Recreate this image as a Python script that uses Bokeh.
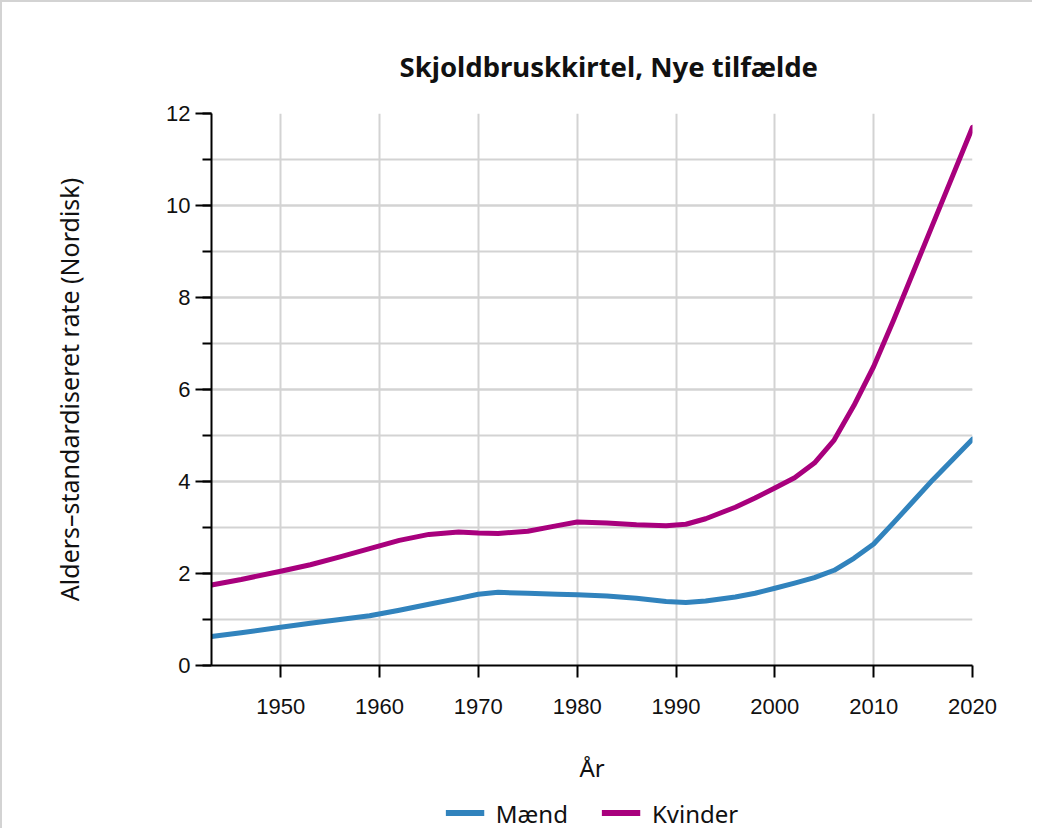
from bokeh.plotting import figure
from bokeh.models import ColumnDataSource, SingleIntervalTicker, FixedTicker, Range1d, Legend, LegendItem, Title
from bokeh.layouts import column
from bokeh.embed import file_html
from bokeh.resources import INLINE

years = [1943, 1946, 1950, 1953, 1956, 1959, 1962, 1965, 1968, 1970, 1972, 1975, 1978, 1980, 1983, 1986,
         1989, 1991, 1993, 1996, 1998, 2000, 2002, 2004, 2006, 2008, 2010, 2012, 2014, 2016, 2018, 2020]
maend = [0.63, 0.71, 0.83, 0.92, 1.00, 1.08, 1.20, 1.33, 1.46, 1.55, 1.59, 1.57, 1.55, 1.54, 1.51, 1.46,
         1.39, 1.37, 1.40, 1.49, 1.57, 1.68, 1.79, 1.91, 2.07, 2.33, 2.64, 3.10, 3.57, 4.04, 4.48, 4.92]
kvinder = [1.75, 1.87, 2.05, 2.19, 2.36, 2.54, 2.72, 2.85, 2.90, 2.88, 2.87, 2.92, 3.04, 3.12, 3.10, 3.06,
           3.04, 3.07, 3.19, 3.44, 3.64, 3.86, 4.08, 4.40, 4.90, 5.65, 6.50, 7.50, 8.55, 9.60, 10.65, 11.70]

x_ticks = [1950, 1960, 1970, 1980, 1990, 2000, 2010, 2020]
title_text = "Skjoldbruskkirtel, Nye tilfælde"
x_label = "År"
y_label = "Alders\u2013standardiseret rate (Nordisk)"
series_names = ["Mænd", "Kvinder"]
colors = ["#3183bd", "#a8007d"]

src = ColumnDataSource(dict(year=years, maend=maend, kvinder=kvinder))

p = figure(output_backend="svg", toolbar_location=None,
           x_range=Range1d(1943, 2020), y_range=Range1d(0, 12),
           frame_width=759, frame_height=550,
           min_border_left=209, min_border_top=111, min_border_right=62, min_border_bottom=134)
p.styles = {"border-left": "2px solid #d3d3d3", "border-top": "2px solid #d3d3d3"}

p.title = Title(text=title_text, text_font="Noto Sans", text_font_size="27.5px",
                text_font_style="bold", text_color="#111111", align="left", offset=188,
                standoff=57)

p.outline_line_color = None
p.background_fill_color = "white"

p.xaxis.ticker = FixedTicker(ticks=x_ticks)
p.yaxis.ticker = SingleIntervalTicker(interval=2, num_minor_ticks=2)
for ax in (p.xaxis[0], p.yaxis[0]):
    ax.axis_line_color = "black"
    ax.axis_line_width = 2
    ax.major_tick_line_color = "black"
    ax.major_tick_line_width = 2
    ax.minor_tick_line_width = 2
    ax.major_label_text_font = "Liberation Sans"
    ax.major_label_text_font_size = "22px"
    ax.major_label_text_color = "#111111"
    ax.axis_label_text_font = "Noto Sans"
    ax.axis_label_text_font_size = "24px"
    ax.axis_label_text_font_style = "normal"
    ax.axis_label_text_color = "#111111"
    ax.major_tick_in = 0

p.xaxis.major_tick_out = 12
p.xaxis.minor_tick_line_color = None
p.xaxis.major_label_standoff = 21
p.xaxis.axis_label = x_label
p.xaxis.axis_label_standoff = 34

p.yaxis.major_tick_out = 16
p.yaxis.minor_tick_out = 9
p.yaxis.minor_tick_in = 0
p.yaxis.minor_tick_line_color = "black"
p.yaxis.major_label_standoff = 5
p.yaxis.axis_label = y_label
p.yaxis.axis_label_text_font_size = "25px"
p.yaxis.axis_label_standoff = 77

p.xgrid.grid_line_color = "#d3d3d3"
p.xgrid.grid_line_width = 2
p.ygrid.grid_line_color = "#d3d3d3"
p.ygrid.grid_line_width = 2
p.ygrid.minor_grid_line_color = "#d3d3d3"
p.ygrid.minor_grid_line_width = 2

p.line("year", "maend", source=src, line_color=colors[0], line_width=5, line_join="round", line_cap="round")
p.line("year", "kvinder", source=src, line_color=colors[1], line_width=5, line_join="round", line_cap="round")

# legend strip below the chart (its lines use the same data, which lies outside this strip's range)
p2 = figure(output_backend="svg", toolbar_location=None,
            x_range=Range1d(0, 1), y_range=Range1d(-1, 0),
            frame_width=759, frame_height=31,
            min_border_left=209, min_border_top=0, min_border_right=62, min_border_bottom=0,
            x_axis_location=None, y_axis_location=None)
p2.styles = {"border-left": "2px solid #d3d3d3"}
p2.outline_line_color = None
p2.xgrid.visible = False
p2.ygrid.visible = False
l1 = p2.line("year", "maend", source=src, line_color=colors[0], line_width=6)
l2 = p2.line("year", "kvinder", source=src, line_color=colors[1], line_width=6)

legend = Legend(items=[LegendItem(label=series_names[0], renderers=[l1]),
                       LegendItem(label=series_names[1], renderers=[l2])],
                orientation="horizontal", location="center",
                label_text_font="Noto Sans", label_text_font_size="24px", label_text_color="#111111",
                glyph_width=39, glyph_height=20, label_standoff=12, spacing=33,
                border_line_color=None, background_fill_alpha=0, padding=0, margin=0)
p2.add_layout(legend)

layout = column(p, p2, spacing=0)
open("out.html", "w").write(file_html(layout, INLINE))
